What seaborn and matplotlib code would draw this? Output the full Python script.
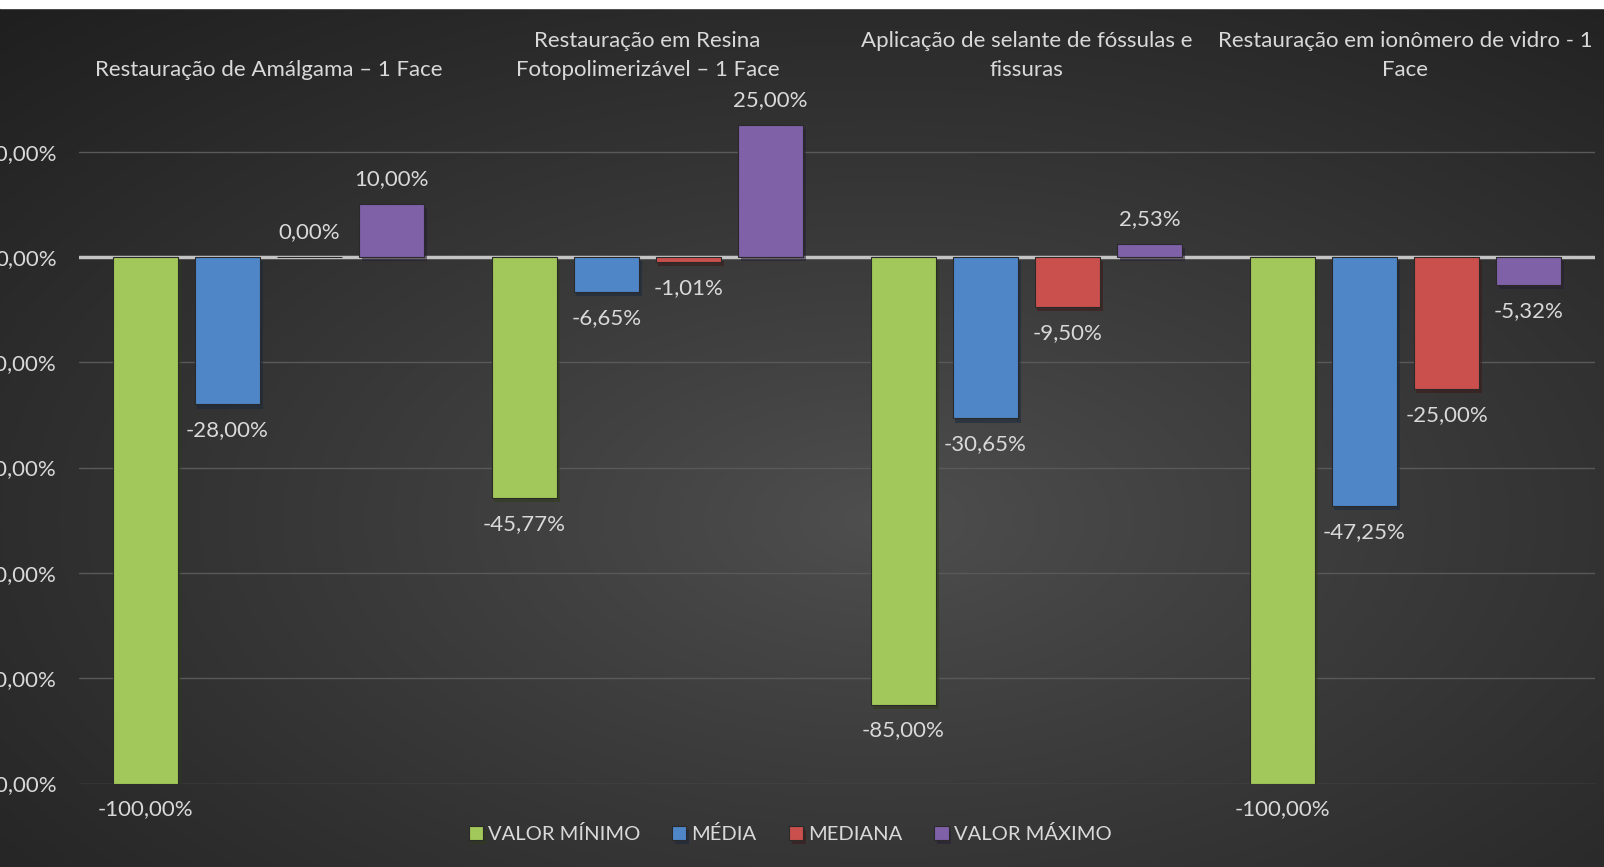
import matplotlib
matplotlib.use("Agg")
import matplotlib.pyplot as plt
import matplotlib.patheffects as pe
from matplotlib.patches import Rectangle
import numpy as np
import pandas as pd
import seaborn as sns

sns.set_theme(style="dark")
plt.rcParams["font.family"] = ["Lato", "DejaVu Sans"]

# dados
categorias = [
    "Restauração de Amálgama – 1 Face",
    "Restauração em Resina\nFotopolimerizável – 1 Face",
    "Aplicação de selante de fóssulas e\nfissuras",
    "Restauração em ionômero de vidro - 1\nFace",
]
series = ["VALOR MÍNIMO", "MÉDIA", "MEDIANA", "VALOR MÁXIMO"]
valor_minimo = [-100.00, -45.77, -85.00, -100.00]
media = [-28.00, -6.65, -30.65, -47.25]
mediana = [0.00, -1.01, -9.50, -25.00]
valor_maximo = [10.00, 25.00, 2.53, -5.32]
y_ticks = [20, 0, -20, -40, -60, -80, -100]
cores = ["#a2c75a", "#4f86c8", "#c9504d", "#7f61a8"]

df = pd.DataFrame({
    "categoria": np.repeat(categorias, len(series)),
    "serie": series * len(categorias),
    "valor": [v for linha in zip(valor_minimo, media, mediana, valor_maximo) for v in linha],
})

TXT = "#d9d9d9"
FS = 16
fmt = lambda v: f"{v:.2f}".replace(".", ",") + "%"

fig = plt.figure(figsize=(16.04, 8.67), dpi=100)

# fundo com gradiente radial
bg = fig.add_axes([0, 0, 1, 1], zorder=-10)
yy, xx = np.mgrid[0:1:400j, 0:1:700j]
d = np.sqrt(((xx - 0.55) / 0.75) ** 2 + ((yy - 0.6) / 0.75) ** 2)
d = np.clip(d / d.max(), 0, 1)
g = 0.31 - 0.19 * d ** 0.9
bg.imshow(np.dstack([g, g, g]), aspect="auto", extent=[0, 1, 0, 1], origin="upper")
bg.add_patch(Rectangle((0, 1 - 8 / 867), 1, 8 / 867, color="white", transform=bg.transAxes))
bg.set_axis_off()

ax = fig.add_axes([79 / 1604, 1 - 783.5 / 867, 1516 / 1604, (783.5 - 99) / 867])
ax.set_facecolor("none")
sns.barplot(data=df, x="categoria", y="valor", hue="serie", hue_order=series,
            palette=cores, width=0.866, gap=0.2, saturation=1, ax=ax, zorder=3,
            edgecolor="#2a2a2a", linewidth=0.8)

for p in ax.patches:
    p.set_path_effects([pe.SimplePatchShadow(offset=(2, -3), alpha=0.55), pe.Normal()])

for cont in ax.containers:
    for p in cont:
        v = p.get_height()
        x = p.get_x() + p.get_width() / 2
        off = -26 if v < 0 else 25
        ax.annotate(fmt(v), (x, v), xytext=(0, off), textcoords="offset pixels",
                    ha="center", va="center", color=TXT, fontsize=FS, annotation_clip=False)

ax.set_ylim(-100, 30)
ax.set_xlim(-0.5, 3.5)
ax.set_yticks(y_ticks)
ax.set_yticklabels([fmt(v) for v in y_ticks])
ax.grid(axis="y", color="#595959", lw=1, zorder=0)
ax.grid(axis="x", visible=False)
ax.axhline(0, color="#c4c4c4", lw=2.5, zorder=2)
ax.tick_params(axis="y", colors=TXT, labelsize=FS, pad=16, length=0)
ax.tick_params(axis="x", colors=TXT, labelsize=FS, length=0, pad=14,
               labeltop=True, labelbottom=False)
for t in ax.get_xticklabels():
    t.set_linespacing(1.55)
ax.set_xlabel("")
ax.set_ylabel("")
for s in ax.spines.values():
    s.set_visible(False)

h, l = ax.get_legend_handles_labels()
ax.get_legend().remove()
fig.legend(h, l, loc="center", bbox_to_anchor=(790 / 1604, 1 - 834 / 867), ncol=4,
           frameon=False, fontsize=14.5, labelcolor=TXT, handlelength=0.7,
           handleheight=0.7, handletextpad=0.25, columnspacing=1.6)

fig.savefig("out.png", dpi=100)
